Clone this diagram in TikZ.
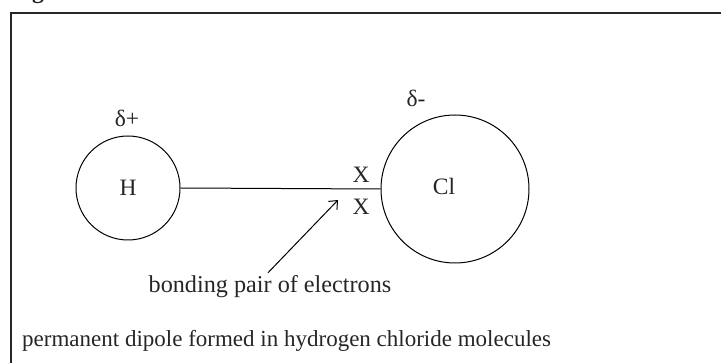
\documentclass[tikz,border=0pt]{standalone}
\usepackage{fontspec}
\setmainfont{Liberation Serif}
\usetikzlibrary{arrows.meta}
\begin{document}
\begin{tikzpicture}[x=1pt,y=-1pt,
  lbl/.style={inner sep=0pt,font=\fontsize{23.5}{28}\selectfont,text=black!85},
  atom/.style={circle,draw,line width=1pt,inner sep=0pt},
  ptr/.style={line width=1pt,-{Straight Barb[length=7pt,width=12pt]}}]
\useasboundingbox (0,0) rectangle (721,363);
\node[lbl,anchor=base west,font=\bfseries\fontsize{23.5}{28}\selectfont] (fig) at (11,-1) {Figure};
\draw[line width=1.6pt,black!85] (11,13) rectangle (760,400);
\node[atom,minimum size=104pt] (H) at (128,188) {};
\node[lbl] (Ht) at (128,188) {H};
\node[lbl] (dp) at (127,118) {δ+};
\node[atom,minimum size=148pt] (Cl) at (455,189) {};
\node[lbl] (Clt) at (444,186) {Cl};
\node[lbl] (dm) at (416,98) {δ-};
\draw[line width=1pt] (H.east) -- (Cl.west);
\node[lbl] (x1) at (361,175) {X};
\node[lbl] (x2) at (361,207) {X};
\node[lbl,anchor=base,font=\fontsize{24.2}{28}\selectfont] (bp) at (270,293) {bonding pair of electrons};
\coordinate (tip) at (338,200);
\draw[ptr] (bp.north) ++(-2,-3) coordinate (tail) -- (tip);
\node[lbl,anchor=base west,font=\fontsize{23}{28}\selectfont] (cap) at (22,347) {permanent dipole formed in hydrogen chloride molecules};
\end{tikzpicture}
\end{document}
